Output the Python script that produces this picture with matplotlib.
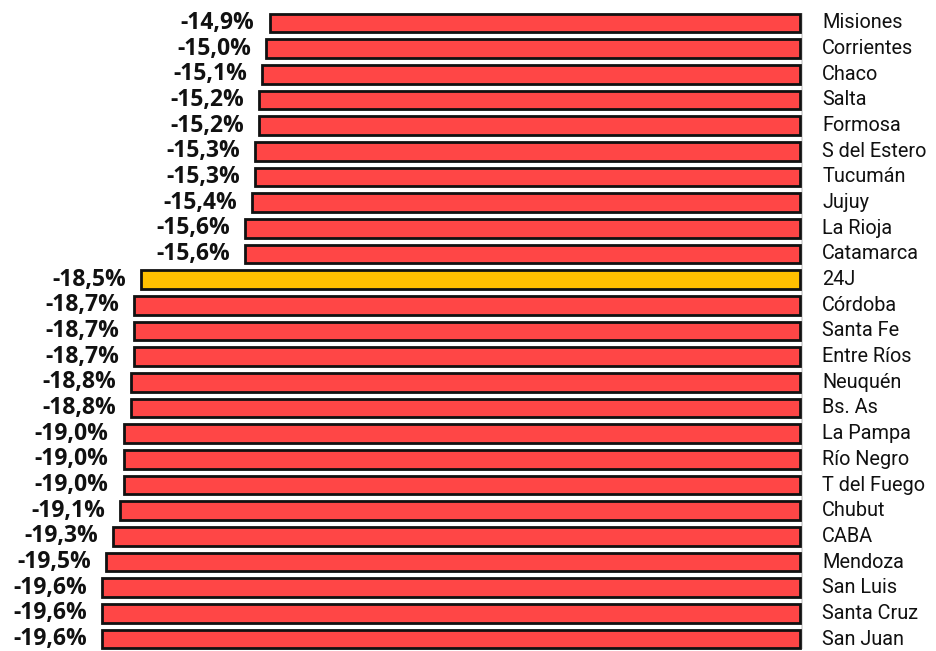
import matplotlib
matplotlib.use("Agg")
import matplotlib.pyplot as plt

provincias = ["Misiones", "Corrientes", "Chaco", "Salta", "Formosa", "S del Estero",
              "Tucumán", "Jujuy", "La Rioja", "Catamarca", "24J", "Córdoba", "Santa Fe",
              "Entre Ríos", "Neuquén", "Bs. As", "La Pampa", "Río Negro", "T del Fuego",
              "Chubut", "CABA", "Mendoza", "San Luis", "Santa Cruz", "San Juan"]
variacion = [-14.9, -15.0, -15.1, -15.2, -15.2, -15.3, -15.3, -15.4, -15.6, -15.6,
             -18.5, -18.7, -18.7, -18.7, -18.8, -18.8, -19.0, -19.0, -19.0, -19.1,
             -19.3, -19.5, -19.6, -19.6, -19.6]
destacado = "24J"

ROJO = "#ff4646"
AMARILLO = "#ffc000"

plt.rcParams["font.family"] = ["Roboto", "DejaVu Sans"]

fig = plt.figure(figsize=(9.36, 6.51), dpi=100)
ax = fig.add_axes([0, 0, 1, 1])

colores = [AMARILLO if p == destacado else ROJO for p in provincias]
ypos = list(range(len(provincias)))

ax.vlines(0.05, -0.4, len(provincias) - 0.6, color="#d4d4d4", lw=1.2, zorder=0)
ax.barh(ypos, variacion, height=0.74, color=colores, edgecolor="#111111", linewidth=2, zorder=2)

for y, v, p in zip(ypos, variacion, provincias):
    txt = f"{v:.1f}%".replace(".", ",")
    ax.text(v - 0.42, y, txt, ha="right", va="center", fontsize=16.5, fontweight="bold",
            family=["Open Sans", "DejaVu Sans"], color="#111111")
    ax.text(0.62, y, p, ha="left", va="center", fontsize=14.3, color="#111111")

# px = 800 + v*35.6 ; figure 936 px wide
ax.set_xlim(-800 / 35.6, 136 / 35.6)
ax.set_ylim(24 + 12 / 25.67, -23 / 25.67)
ax.axis("off")

fig.savefig("out.png", dpi=100)
